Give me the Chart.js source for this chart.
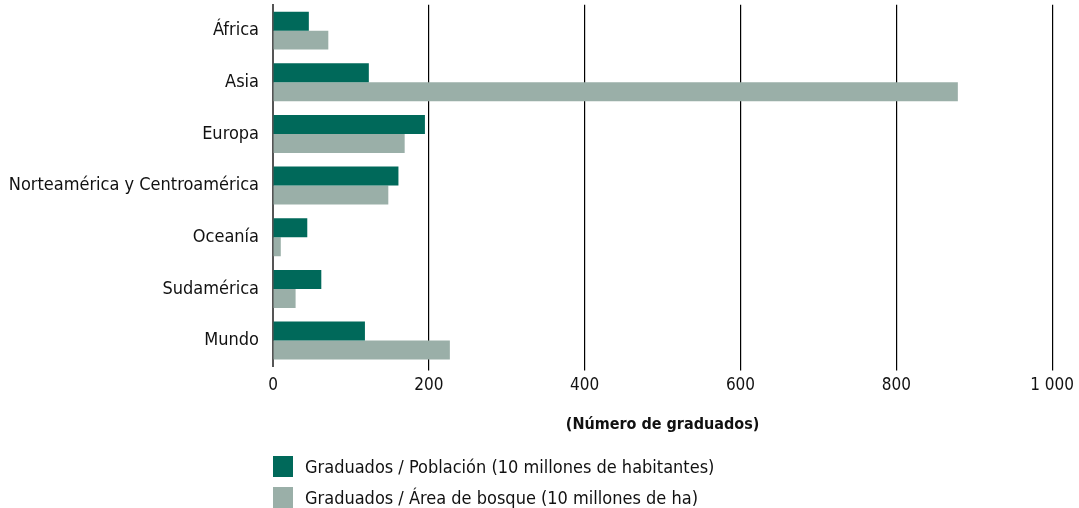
<!DOCTYPE html>
<html>
<head>
<meta charset="utf-8">
<script src="https://cdn.jsdelivr.net/npm/chart.js@4/dist/chart.umd.min.js"></script>
<style>
  body { margin: 0; background: #fff; overflow: hidden; }
  #wrap { position: relative; width: 1079px; height: 508px; overflow: hidden; }
  #chart { position: absolute; left: 0; top: -12px; }
  #legend { position: absolute; left: 273px; top: 451px; font-family: "Liberation Sans Narrow", "DejaVu Sans Condensed", sans-serif; font-size: 18px; color: #111; }
  .item { display: flex; align-items: center; height: 31px; }
  .box { width: 20px; height: 21px; margin-right: 12px; }
</style>
</head>
<body>
<div id="wrap">
  <canvas id="chart" width="1079" height="520"></canvas>
  <div id="legend"></div>
</div>
<script>
const regions = ['África', 'Asia', 'Europa', 'Norteamérica y Centroamérica', 'Oceanía', 'Sudamérica', 'Mundo']
const perPopulation = [46, 123, 195, 161, 44, 62, 118]
const perForest = [71, 879, 169, 148, 10, 29, 227]
const seriesNames = ['Graduados / Población (10 millones de habitantes)', 'Graduados / Área de bosque (10 millones de ha)']
const colors = ['#00695a', '#9aafa8']
const xTicks = [0, 200, 400, 600, 800, 1000]

const font = '"Liberation Sans Narrow", "DejaVu Sans Condensed", sans-serif'

const ctx = document.getElementById('chart').getContext('2d')

new Chart(ctx, {
    type: 'bar',
    data: {
        labels: regions,
        datasets: [
            { label: seriesNames[0], data: perPopulation, backgroundColor: colors[0] },
            { label: seriesNames[1], data: perForest, backgroundColor: colors[1] }
        ]
    },
    options: {
        indexAxis: 'y',
        responsive: false,
        animation: false,
        layout: { padding: { top: 0, right: 26, bottom: 74, left: 0 } },
        datasets: { bar: { categoryPercentage: 0.735, barPercentage: 1 } },
        plugins: {
            legend: { display: false },
            tooltip: { enabled: false }
        },
        scales: {
            x: {
                min: 0,
                max: 1000,
                afterBuildTicks: (axis) => { axis.ticks = xTicks.map(v => ({ value: v })) },
                border: { display: false },
                grid: {
                    color: (c) => c.tick && c.tick.value === 0 ? 'rgba(0,0,0,0)' : '#000',
                    lineWidth: 1.2,
                    drawTicks: true,
                    tickLength: 4
                },
                ticks: {
                    color: '#111',
                    font: { family: font, size: 17 },
                    padding: 5,
                    maxRotation: 0,
                    callback: (v) => v >= 1000 ? '1 000' : v
                },
                title: {
                    display: true,
                    text: '(Número de graduados)',
                    color: '#111',
                    font: { family: font, size: 16, weight: 'bold' },
                    padding: { top: 14, bottom: 0 }
                }
            },
            y: {
                afterFit: (axis) => { axis.width = 273 },
                border: { display: true, color: '#555', width: 2 },
                grid: { display: false },
                ticks: {
                    color: '#111',
                    font: { family: font, size: 18 },
                    padding: 6
                }
            }
        }
    }
})

// legend rows below the axis title
const legend = document.getElementById('legend')
for (let i = 0; i < seriesNames.length; i++) {
    const row = document.createElement('div')
    row.className = 'item'
    row.innerHTML = '<span class="box" style="background:' + colors[i] + '"></span>' + seriesNames[i]
    legend.appendChild(row)
}
</script>
</body>
</html>
